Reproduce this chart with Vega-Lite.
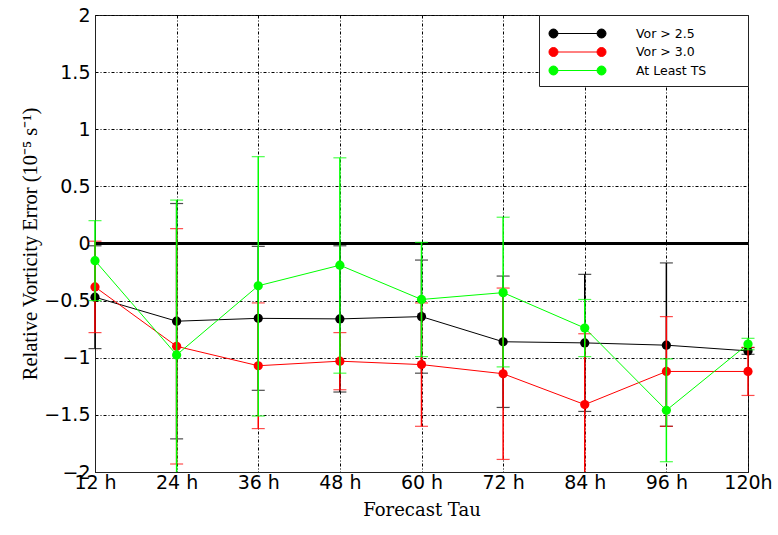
{
  "$schema": "https://vega.github.io/schema/vega-lite/v6.json",
  "width": 653,
  "height": 457,
  "autosize": "none",
  "padding": {"left": 95, "top": 15, "right": 30, "bottom": 63},
  "background": "white",
  "data": {"values": [
    {"tau": "12 h", "series": "Vor > 2.5", "mean": -0.47, "lo": -0.92, "hi": -0.02},
    {"tau": "24 h", "series": "Vor > 2.5", "mean": -0.68, "lo": -1.71, "hi": 0.35},
    {"tau": "36 h", "series": "Vor > 2.5", "mean": -0.655, "lo": -1.285, "hi": -0.025},
    {"tau": "48 h", "series": "Vor > 2.5", "mean": -0.66, "lo": -1.3, "hi": -0.02},
    {"tau": "60 h", "series": "Vor > 2.5", "mean": -0.64, "lo": -1.135, "hi": -0.145},
    {"tau": "72 h", "series": "Vor > 2.5", "mean": -0.86, "lo": -1.435, "hi": -0.285},
    {"tau": "84 h", "series": "Vor > 2.5", "mean": -0.87, "lo": -1.47, "hi": -0.27},
    {"tau": "96 h", "series": "Vor > 2.5", "mean": -0.89, "lo": -1.6, "hi": -0.17},
    {"tau": "120h", "series": "Vor > 2.5", "mean": -0.94, "lo": -0.97, "hi": -0.91},
    {"tau": "12 h", "series": "Vor > 3.0", "mean": -0.38, "lo": -0.78, "hi": 0.02},
    {"tau": "24 h", "series": "Vor > 3.0", "mean": -0.9, "lo": -1.93, "hi": 0.13},
    {"tau": "36 h", "series": "Vor > 3.0", "mean": -1.07, "lo": -1.62, "hi": -0.52},
    {"tau": "48 h", "series": "Vor > 3.0", "mean": -1.03, "lo": -1.28, "hi": -0.78},
    {"tau": "60 h", "series": "Vor > 3.0", "mean": -1.06, "lo": -1.6, "hi": -0.52},
    {"tau": "72 h", "series": "Vor > 3.0", "mean": -1.14, "lo": -1.89, "hi": -0.39},
    {"tau": "84 h", "series": "Vor > 3.0", "mean": -1.41, "lo": -2.03, "hi": -0.79},
    {"tau": "96 h", "series": "Vor > 3.0", "mean": -1.12, "lo": -1.6, "hi": -0.64},
    {"tau": "120h", "series": "Vor > 3.0", "mean": -1.12, "lo": -1.33, "hi": -0.91},
    {"tau": "12 h", "series": "At Least TS", "mean": -0.15, "lo": -0.5, "hi": 0.2},
    {"tau": "24 h", "series": "At Least TS", "mean": -0.975, "lo": -2.35, "hi": 0.38},
    {"tau": "36 h", "series": "At Least TS", "mean": -0.37, "lo": -1.51, "hi": 0.76},
    {"tau": "48 h", "series": "At Least TS", "mean": -0.19, "lo": -1.135, "hi": 0.75},
    {"tau": "60 h", "series": "At Least TS", "mean": -0.49, "lo": -0.99, "hi": 0.01},
    {"tau": "72 h", "series": "At Least TS", "mean": -0.43, "lo": -1.08, "hi": 0.23},
    {"tau": "84 h", "series": "At Least TS", "mean": -0.74, "lo": -0.99, "hi": -0.49},
    {"tau": "96 h", "series": "At Least TS", "mean": -1.46, "lo": -1.91, "hi": -1.01},
    {"tau": "120h", "series": "At Least TS", "mean": -0.88, "lo": -0.93, "hi": -0.83}
  ]},
  "encoding": {
    "x": {
      "field": "tau", "type": "ordinal",
      "sort": ["12 h", "24 h", "36 h", "48 h", "60 h", "72 h", "84 h", "96 h", "120h"],
      "scale": {"type": "point", "padding": 0},
      "axis": {
        "title": "Forecast Tau", "labelAngle": 0, "grid": true, "ticks": false,
        "labelPadding": 1, "titlePadding": 9,
        "gridDash": [3, 2, 1, 2]
      }
    }
  },
  "layer": [
    {
      "mark": {"type": "rule", "color": "black", "strokeWidth": 3},
      "data": {"values": [{"zero": 0}]},
      "encoding": {
        "x": null,
        "y": {"field": "zero", "type": "quantitative", "scale": {"domain": [-2, 2], "clamp": true},
          "axis": {
            "title": "Relative Vorticity Error (10⁻⁵ s⁻¹)",
            "values": [-2, -1.5, -1, -0.5, 0, 0.5, 1, 1.5, 2],
            "format": "~f", "grid": true, "gridDash": [3, 2, 1, 2], "ticks": false,
            "labelPadding": 5, "titlePadding": 3
          }}
      }
    },
    {
      "transform": [{"filter": "datum.series == 'Vor > 2.5'"}],
      "layer": [
        {"mark": {"type": "rule", "strokeWidth": 1.5},
         "encoding": {"y": {"field": "lo", "type": "quantitative"}, "y2": {"field": "hi"},
           "color": {"field": "series", "type": "nominal", "scale": {"domain": ["Vor > 2.5", "Vor > 3.0", "At Least TS"], "range": ["#000000", "#ff0000", "#00ff00"]}}}},
        {"transform": [{"filter": "datum.lo >= -2"}], "mark": {"type": "tick", "orient": "horizontal", "size": 13, "thickness": 1.2},
         "encoding": {"y": {"field": "lo", "type": "quantitative"}, "color": {"field": "series", "type": "nominal"}}},
        {"mark": {"type": "tick", "orient": "horizontal", "size": 13, "thickness": 1.2},
         "encoding": {"y": {"field": "hi", "type": "quantitative"}, "color": {"field": "series", "type": "nominal"}}},
        {"mark": {"type": "line", "strokeWidth": 1},
         "encoding": {"y": {"field": "mean", "type": "quantitative"}, "color": {"field": "series", "type": "nominal"}}},
        {"mark": {"type": "circle", "size": 85, "opacity": 1},
         "encoding": {"y": {"field": "mean", "type": "quantitative"}, "color": {"field": "series", "type": "nominal"}}}
      ]
    },
    {
      "transform": [{"filter": "datum.series == 'Vor > 3.0'"}],
      "layer": [
        {"mark": {"type": "rule", "strokeWidth": 1.5},
         "encoding": {"y": {"field": "lo", "type": "quantitative"}, "y2": {"field": "hi"}, "color": {"field": "series", "type": "nominal"}}},
        {"transform": [{"filter": "datum.lo >= -2"}], "mark": {"type": "tick", "orient": "horizontal", "size": 13, "thickness": 1.2},
         "encoding": {"y": {"field": "lo", "type": "quantitative"}, "color": {"field": "series", "type": "nominal"}}},
        {"mark": {"type": "tick", "orient": "horizontal", "size": 13, "thickness": 1.2},
         "encoding": {"y": {"field": "hi", "type": "quantitative"}, "color": {"field": "series", "type": "nominal"}}},
        {"mark": {"type": "line", "strokeWidth": 1},
         "encoding": {"y": {"field": "mean", "type": "quantitative"}, "color": {"field": "series", "type": "nominal"}}},
        {"mark": {"type": "circle", "size": 85, "opacity": 1},
         "encoding": {"y": {"field": "mean", "type": "quantitative"}, "color": {"field": "series", "type": "nominal"}}}
      ]
    },
    {
      "transform": [{"filter": "datum.series == 'At Least TS'"}],
      "layer": [
        {"mark": {"type": "rule", "strokeWidth": 1.5},
         "encoding": {"y": {"field": "lo", "type": "quantitative"}, "y2": {"field": "hi"}, "color": {"field": "series", "type": "nominal"}}},
        {"transform": [{"filter": "datum.lo >= -2"}], "mark": {"type": "tick", "orient": "horizontal", "size": 13, "thickness": 1.2},
         "encoding": {"y": {"field": "lo", "type": "quantitative"}, "color": {"field": "series", "type": "nominal"}}},
        {"mark": {"type": "tick", "orient": "horizontal", "size": 13, "thickness": 1.2},
         "encoding": {"y": {"field": "hi", "type": "quantitative"}, "color": {"field": "series", "type": "nominal"}}},
        {"mark": {"type": "line", "strokeWidth": 1},
         "encoding": {"y": {"field": "mean", "type": "quantitative"}, "color": {"field": "series", "type": "nominal"}}},
        {"mark": {"type": "circle", "size": 85, "opacity": 1},
         "encoding": {"y": {"field": "mean", "type": "quantitative"},
           "color": {"field": "series", "type": "nominal",
             "legend": {
               "title": null, "orient": "top-right", "offset": 0,
               "fillColor": "white", "strokeColor": "#222", "padding": 9,
               "symbolType": "M-3,0L3,0M-2.17,0A0.5,0.5,0,1,1,-3.17,0A0.5,0.5,0,1,1,-2.17,0ZM3.17,0A0.5,0.5,0,1,1,2.17,0A0.5,0.5,0,1,1,3.17,0Z",
               "symbolSize": 324, "symbolStrokeWidth": 1, "symbolOpacity": 1, "symbolOffset": 20,
               "labelFont": "DejaVu Sans", "labelFontSize": 12.5, "labelColor": "black",
               "labelOffset": 49, "rowPadding": 2.5, "labelLimit": 300,
               "encode": {
                 "symbols": {"update": {"fill": {"scale": "color", "field": "value"}, "stroke": {"scale": "color", "field": "value"}}},
                 "labels": {"update": {"text": {"signal": "datum.label + '\u00a0\u00a0\u00a0\u00a0\u00a0\u00a0\u00a0\u00a0\u200b'"}}}
               }
             }}}}
      ]
    }
  ],
  "config": {
    "view": {"stroke": "#222", "strokeWidth": 1},
    "axis": {
      "labelFont": "DejaVu Sans", "labelFontSize": 19, "labelColor": "black",
      "titleFont": "Liberation Serif", "titleFontSize": 20.5, "titleFontWeight": "normal", "titleColor": "black",
      "domainColor": "#222", "gridColor": "black", "gridOpacity": 1, "gridWidth": 1
    },
    "axisX": {"titleFont": "DejaVu Serif", "titleFontSize": 18}
  }
}
